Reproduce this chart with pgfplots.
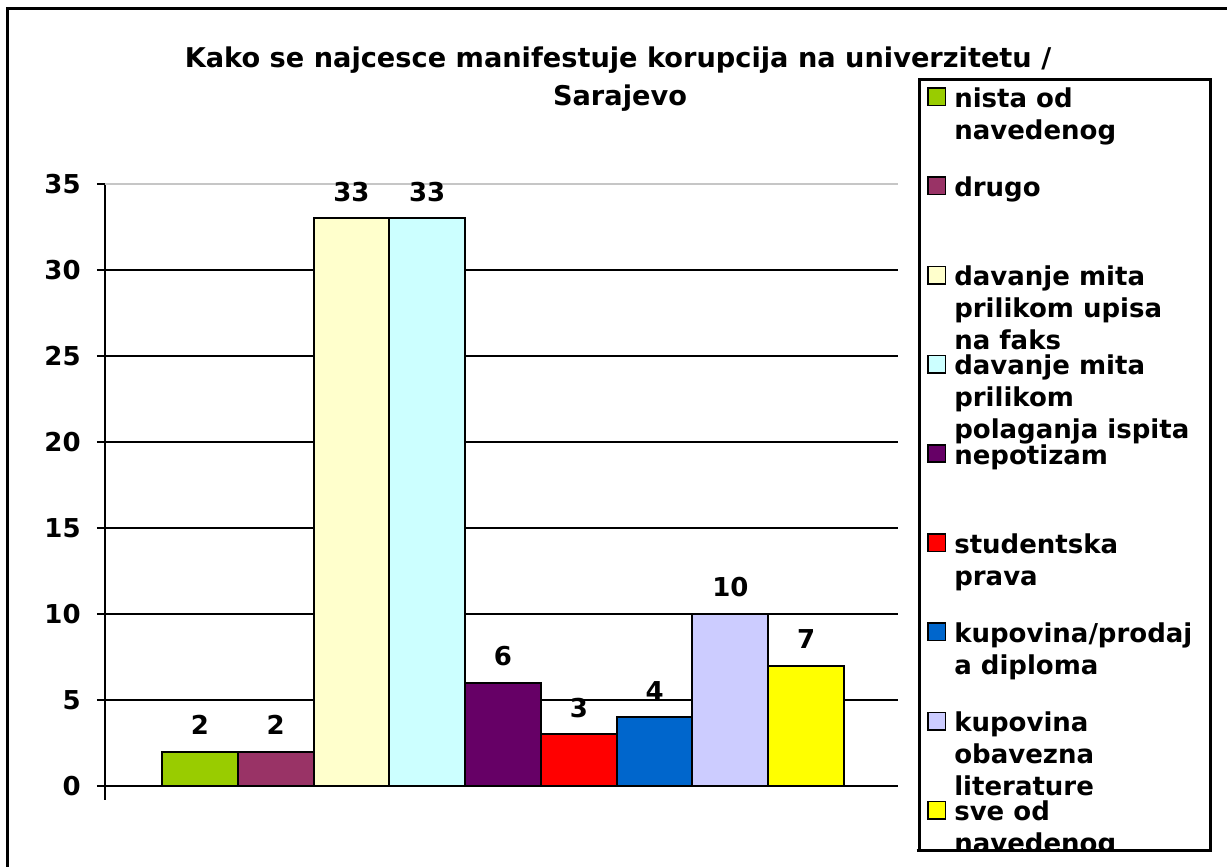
\documentclass[border=0pt]{standalone}
\usepackage{fontspec}
\setmainfont{DejaVu Sans}
\usepackage{pgfplots}
\pgfplotsset{compat=1.18}
\definecolor{c1}{HTML}{99CC00}
\definecolor{c2}{HTML}{993366}
\definecolor{c3}{HTML}{FFFFCC}
\definecolor{c4}{HTML}{CCFFFF}
\definecolor{c5}{HTML}{660066}
\definecolor{c6}{HTML}{FF0000}
\definecolor{c7}{HTML}{0066CC}
\definecolor{c8}{HTML}{CCCCFF}
\definecolor{c9}{HTML}{FFFF00}
\newcommand{\lf}{\bfseries\fontsize{13}{16}\selectfont}
\newcommand{\tf}{\bfseries\fontsize{13.6}{20}\selectfont}
\newcommand{\lgd}[1]{\raisebox{0pt}[11.2pt][0pt]{\parbox[t]{124pt}{\lf\raggedright\strut #1}}}
\begin{document}
\begin{tikzpicture}
\path[use as bounding box] (0,0) rectangle (613.5pt,433.5pt);
\draw[line width=1.5pt] (3.5pt,0pt) -- (3.5pt,429pt) -- (613.5pt,429pt);
\node[font=\tf, anchor=base] at (309pt,399.5pt) {Kako se najcesce manifestuje korupcija na univerzitetu /};
\node[font=\tf, anchor=base] at (310pt,380.5pt) {Sarajevo};
\begin{axis}[
  at={(52.5pt,40.5pt)}, anchor=south west,
  scale only axis, width=396.5pt, height=301pt,
  xmin=-0.252, xmax=10.212, ymin=0, ymax=35,
  ybar, bar width=1,
  axis x line=bottom, axis y line=left,
  axis line style={-, line width=1pt, black},
  y axis line style={shorten <=-7pt},
  xtick=\empty,
  ytick={0,5,...,30},
  extra y ticks={35},
  extra y tick style={ymajorgrids=true, major grid style={gray!45, line width=0.8pt}},
  ymajorgrids,
  major grid style={black, line width=1pt},
  tick align=outside, major tick length=4pt,
  tick style={black, line width=1pt},
  /pgf/number format/assume math mode=true,
  ticklabel style={font=\lf},
  yticklabel style={inner sep=0pt, xshift=-8pt},
  nodes near coords,
  every node near coord/.append style={font=\lf, anchor=base, yshift=8.5pt, text=black},
  legend style={at={(1.0252,1.1761)}, anchor=north west, draw=black, line width=1.3pt,
    inner xsep=4pt, inner ysep=2.8pt, row sep=20.7pt, column sep=4pt,
    nodes={inner sep=0pt}, cells={anchor=base west}},
  legend image code/.code={\path[draw=none,fill=none] (0pt,11.2pt) rectangle (8.7pt,-12.7pt);
    \draw[#1, line width=0.8pt, draw=black] (0pt,0.9pt) rectangle (8.7pt,9.6pt);},
]
\addplot[fill=c1, draw=black, line width=1pt, bar shift=0pt] coordinates {(1,2)};
\addplot[fill=c2, draw=black, line width=1pt, bar shift=0pt] coordinates {(2,2)};
\addplot[fill=c3, draw=black, line width=1pt, bar shift=0pt] coordinates {(3,33)};
\addplot[fill=c4, draw=black, line width=1pt, bar shift=0pt] coordinates {(4,33)};
\addplot[fill=c5, draw=black, line width=1pt, bar shift=0pt] coordinates {(5,6)};
\addplot[fill=c6, draw=black, line width=1pt, bar shift=0pt] coordinates {(6,3)};
\addplot[fill=c7, draw=black, line width=1pt, bar shift=0pt] coordinates {(7,4)};
\addplot[fill=c8, draw=black, line width=1pt, bar shift=0pt] coordinates {(8,10)};
\addplot[fill=c9, draw=black, line width=1pt, bar shift=0pt] coordinates {(9,7)};
\legend{{\lgd{nista od\\navedenog}},{\lgd{drugo}},{\lgd{davanje mita\\prilikom upisa\\na faks}},{\lgd{davanje mita\\prilikom\\polaganja ispita}},{\lgd{nepotizam}},{\lgd{studentska\\prava}},{\lgd{kupovina/prodaj\\a diploma}},{\lgd{kupovina\\obavezna\\literature}},{\lgd{sve od\\navedenog}}}
\end{axis}
\fill[white] (456.5pt,0pt) rectangle (606.5pt,7.55pt);
\draw[line width=1.3pt] (458.35pt,8.2pt) -- (604.35pt,8.2pt);
\end{tikzpicture}
\end{document}
